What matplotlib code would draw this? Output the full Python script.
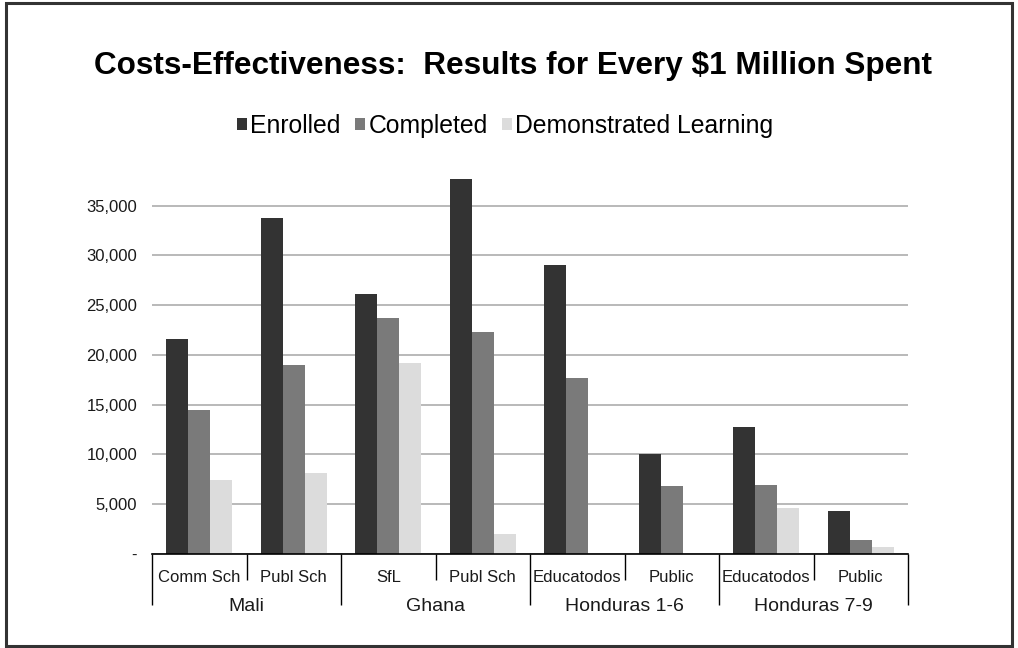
import numpy as np
import matplotlib
matplotlib.use("Agg")
import matplotlib.pyplot as plt
from matplotlib.patches import Rectangle, Patch
from matplotlib.ticker import FuncFormatter

plt.rcParams['font.family'] = ['Liberation Sans', 'DejaVu Sans']

# ---- data ----
categories = ["Comm Sch", "Publ Sch", "SfL", "Publ Sch",
              "Educatodos", "Public", "Educatodos", "Public"]
groups = ["Mali", "Ghana", "Honduras 1-6", "Honduras 7-9"]
series_names = ["Enrolled", "Completed", "Demonstrated Learning"]
enrolled = [21600, 33800, 26100, 37700, 29000, 10050, 12750, 4300]
completed = [14500, 19000, 23700, 22300, 17700, 6850, 6950, 1400]
demonstrated = [7450, 8100, 19200, 2000, 0, 0, 4650, 750]
yticks = [0, 5000, 10000, 15000, 20000, 25000, 30000, 35000]
title = "Costs-Effectiveness:  Results for Every $1 Million Spent"

colors = ["#333333", "#7a7a7a", "#dcdcdc"]

W, H = 1018, 648
fig = plt.figure(figsize=(W / 100, H / 100), dpi=100)
fig.patch.set_facecolor("white")

ax_left, ax_right, ax_bottom, ax_top = 152, 908, 554, 169.5
ax = fig.add_axes([ax_left / W, 1 - ax_bottom / H,
                   (ax_right - ax_left) / W, (ax_bottom - ax_top) / H])
ax_h_px = ax_bottom - ax_top

x = np.arange(len(categories))
w = 0.233
for off, vals, c in zip([-w, 0, w], [enrolled, completed, demonstrated], colors):
    ax.bar(x + off, vals, w, color=c, zorder=3, linewidth=0)

ax.set_xlim(-0.5, len(categories) - 0.5)
ax.set_ylim(0, 38640)
ax.set_yticks(yticks)
ax.yaxis.set_major_formatter(FuncFormatter(lambda v, p: "-" if v == 0 else f"{int(v):,}"))
ax.tick_params(axis="y", length=0, pad=10.8, labelsize=12, labelcolor="#1a1a1a")
ax.tick_params(axis="x", length=0, labelbottom=False)
ax.set_xticks([])
for s in ["top", "right", "left"]:
    ax.spines[s].set_visible(False)
ax.spines["bottom"].set_color("black")
ax.spines["bottom"].set_linewidth(1.2)
ax.spines["bottom"].set_zorder(4)
ax.yaxis.grid(True, color="#b3b3b3", linewidth=1.3, zorder=0)
ax.set_axisbelow(True)

trans = ax.get_xaxis_transform()
# category labels
for i, lab in enumerate(categories):
    ax.text(i, -28 / ax_h_px, lab, transform=trans, ha="center", va="baseline",
            fontsize=12, color="#1a1a1a")
# group labels
for g, lab in enumerate(groups):
    ax.text(2 * g + 0.5, -57 / ax_h_px, lab, transform=trans, ha="center",
            va="baseline", fontsize=14, color="#1a1a1a")
# dividers
sub_div = [0.5, 2.5, 4.5, 6.5]
grp_div = [-0.5, 1.5, 3.5, 5.5, 7.5]
ax.vlines(sub_div, -26 / ax_h_px, 0, transform=trans, colors="black",
          linewidth=1, clip_on=False)
ax.vlines(grp_div, -51 / ax_h_px, 0, transform=trans, colors="black",
          linewidth=1, clip_on=False)

# title
fig.text(513 / W, 1 - 74 / H, title, ha="center", va="baseline",
         fontsize=22.7, fontweight="bold", color="black")

# legend
handles = [Patch(facecolor=c, edgecolor="none") for c in colors]
fig.legend(handles, series_names, loc="center", bbox_to_anchor=(505 / W, 1 - 126 / H),
           ncol=3, frameon=False, fontsize=17.8, handlelength=0.42, handleheight=0.38,
           handletextpad=0.13, columnspacing=0.57, borderpad=0, borderaxespad=0)

# border
bl, br, bt, bb = 6, 1012, 2.5, 645.5
fig.patches.append(Rectangle((bl / W, 1 - bb / H), (br - bl) / W, (bb - bt) / H,
                             transform=fig.transFigure, fill=False,
                             edgecolor="#333333", linewidth=2.2))

fig.savefig("out.png", dpi=100)
